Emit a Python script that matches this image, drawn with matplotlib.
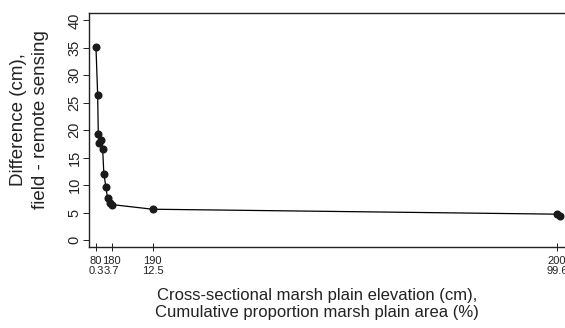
import matplotlib
matplotlib.use("Agg")
import matplotlib.pyplot as plt

plt.rcParams["font.family"] = ["Liberation Sans", "DejaVu Sans"]

# cumulative proportion of marsh plain area (%) and difference (cm)
area_pct = [0.3, 0.67, 0.8, 1.0, 1.45, 1.74, 2.0, 2.45, 2.8, 3.3, 3.7, 12.5, 99.6, 100.3]
diff_cm = [35.2, 26.4, 19.3, 17.7, 18.2, 16.6, 12.1, 9.6, 7.6, 6.8, 6.45, 5.6, 4.7, 4.3]

tick_pos = [0.3, 3.7, 12.5, 99.6]
tick_labels = ["80\n0.3", "180\n3.7", "190\n12.5", "200\n99.6"]
y_ticks = [0, 5, 10, 15, 20, 25, 30, 35, 40]

fig = plt.figure(figsize=(5.65, 3.28), dpi=100)
ax = fig.add_axes([0.158, 0.246, 0.851, 0.7135])

ax.plot(area_pct, diff_cm, color="black", lw=0.9, marker="o", ms=4.8,
        mfc="#1a1a1a", mec="#1a1a1a", zorder=3)

ax.set_xlim(-1.14, 102.47)
ax.set_ylim(-1.34, 41.3)

ax.set_xticks(tick_pos)
ax.set_xticklabels(tick_labels, fontsize=8, linespacing=1.1)
ax.set_yticks(y_ticks)
ax.set_yticklabels([str(v) for v in y_ticks], rotation=90, va="center",
                   fontsize=10.5)
ax.tick_params(axis="x", direction="inout", length=6, width=0.7, pad=3,
               colors="#222222")
ax.tick_params(axis="y", direction="out", length=4, width=0.7, pad=1.5,
               colors="#222222")

for s in ax.spines.values():
    s.set_linewidth(1.0)
    s.set_color("#222222")

ax.set_ylabel("Difference (cm),\nfield - remote sensing", fontsize=13.5,
              color="#222222", linespacing=1.35, va="center")
ax.yaxis.set_label_coords(-0.124, 0.544)
ax.set_xlabel("Cross-sectional marsh plain elevation (cm),\n"
              "Cumulative proportion marsh plain area (%)", fontsize=12,
              color="#222222", linespacing=1.15, va="center")
ax.xaxis.set_label_coords(0.474, -0.242)

fig.savefig("out.png", dpi=100)
